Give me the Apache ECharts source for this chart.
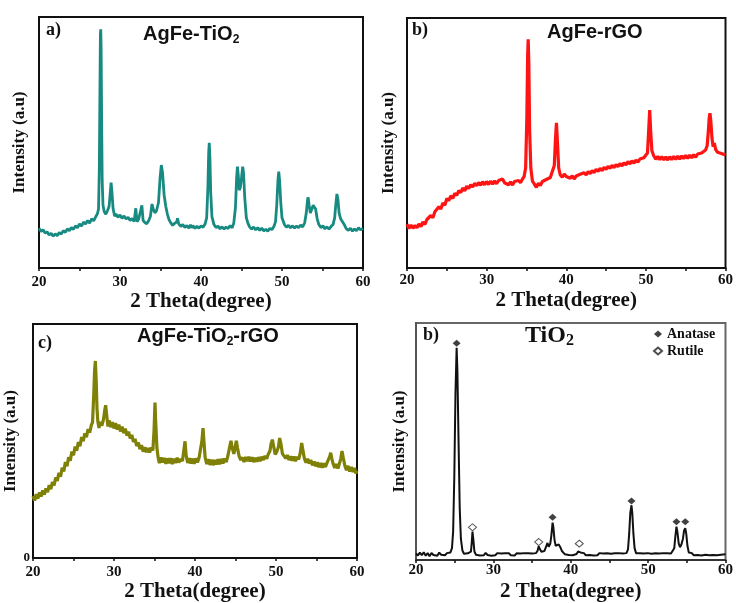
<!DOCTYPE html>
<html>
<head>
<meta charset="utf-8">
<script src="https://cdn.jsdelivr.net/npm/echarts@6/dist/echarts.min.js"></script>
<style>html,body{margin:0;padding:0;background:#fff;}#c{width:736px;height:603px;}</style>
</head>
<body>
<div id="c"></div>
<script>
// ---- DATA (2θ in degrees, intensity in arbitrary units) ----
const xTicks = [20, 30, 40, 50, 60];

const agfeTiO2 = [[20.0,15.8],[20.25,14.6],[20.5,15.2],[20.75,13.9],[21.0,14.4],[21.25,13.2],[21.5,13.8],[21.75,12.7],[22.0,13.6],[22.25,12.9],[22.5,14.1],[22.75,13.5],[23.0,14.9],[23.25,14.2],[23.5,15.6],[23.75,14.8],[24.0,16.1],[24.25,15.4],[24.5,16.8],[24.75,16.0],[25.0,17.6],[25.25,16.7],[25.5,18.3],[25.75,17.5],[26.0,18.9],[26.25,17.9],[26.5,19.6],[26.75,18.8],[27.0,20.4],[27.2,21.5],[27.35,23.5],[27.45,40],[27.52,70],[27.58,93],[27.62,95.1],[27.67,88],[27.73,60],[27.8,35],[27.9,25],[28.05,22.5],[28.25,21.4],[28.45,22.8],[28.65,24.5],[28.8,30],[28.9,34],[29.0,30.5],[29.15,23.5],[29.35,20.6],[29.5,21.5],[29.75,20.2],[30.0,21.1],[30.25,19.8],[30.5,20.7],[30.75,19.5],[31.0,20.2],[31.25,18.9],[31.5,19.7],[31.75,18.6],[31.95,23.8],[32.1,18.5],[32.3,19.4],[32.5,18.8],[32.7,25],[32.85,19],[33.05,18.2],[33.3,17.6],[33.55,18.9],[33.75,20.5],[33.95,25.5],[34.1,23.5],[34.3,22],[34.5,22.8],[34.75,26],[34.95,36],[35.1,41],[35.25,38],[35.45,29],[35.65,24.6],[35.85,21.5],[36.05,19.3],[36.25,18.1],[36.5,17.0],[36.75,17.8],[37.0,18.4],[37.1,19.8],[37.25,17.6],[37.5,16.6],[37.75,17.3],[38.0,16.2],[38.25,16.9],[38.5,15.9],[38.7,17.2],[38.85,16.0],[39.0,16.9],[39.25,15.8],[39.5,16.6],[39.75,15.9],[40.0,16.8],[40.25,16.2],[40.5,17.5],[40.7,20],[40.85,32],[40.95,46],[41.02,49.9],[41.1,44],[41.2,30],[41.35,20.5],[41.6,17.3],[41.85,16.1],[42.1,16.7],[42.35,15.6],[42.6,16.4],[42.85,15.5],[43.1,16.3],[43.35,15.7],[43.6,16.9],[43.85,16.0],[44.05,18],[44.25,24],[44.4,36],[44.5,40.4],[44.6,37],[44.72,31],[44.85,32],[45.0,36],[45.15,40.4],[45.25,38],[45.4,28],[45.6,20],[45.8,17.8],[46.0,16.4],[46.25,15.5],[46.5,16.3],[46.75,15.2],[47.0,16.1],[47.25,15.0],[47.5,15.9],[47.75,14.8],[48.0,15.4],[48.25,14.7],[48.5,15.8],[48.75,15.3],[49.0,16.5],[49.2,18.5],[49.35,25],[49.5,35],[49.6,38.4],[49.7,35],[49.85,26],[50.0,20],[50.3,17.3],[50.55,16.3],[50.8,17.0],[51.05,16.0],[51.3,16.8],[51.55,15.9],[51.8,16.7],[52.05,16.1],[52.3,17.1],[52.55,16.4],[52.8,18],[53.0,22],[53.15,27],[53.22,28.2],[53.35,25],[53.5,21.9],[53.65,22.5],[53.85,25],[54.0,25.5],[54.15,23.5],[54.35,19.5],[54.55,17.3],[54.8,16.1],[55.05,16.8],[55.3,15.6],[55.55,16.4],[55.8,15.5],[56.05,16.5],[56.3,17.3],[56.5,20],[56.65,25.5],[56.78,29.5],[56.9,27.5],[57.05,22],[57.25,19.5],[57.45,19.1],[57.7,17.2],[57.95,15.6],[58.2,15.0],[58.45,15.8],[58.7,14.7],[58.95,15.5],[59.2,14.9],[59.45,16.0],[59.7,15.2],[60.0,15.8]];

const agfeRGO = [[20.0,17.5],[20.25,15.8],[20.5,17.2],[20.75,15.9],[21.0,17.0],[21.25,16.1],[21.5,17.6],[21.75,16.6],[22.0,18.4],[22.25,17.4],[22.5,19.4],[22.75,18.7],[23.0,21.0],[23.25,20.1],[23.5,22.5],[23.75,21.8],[24.0,24.5],[24.25,23.6],[24.5,26.0],[24.75,25.1],[25.0,27.8],[25.25,26.9],[25.5,28.9],[25.75,27.8],[26.0,29.9],[26.25,29.0],[26.5,31.0],[26.75,30.1],[27.0,32.0],[27.25,30.9],[27.5,32.7],[27.75,31.8],[28.0,33.3],[28.25,32.4],[28.5,33.9],[28.75,32.9],[29.0,34.2],[29.25,33.1],[29.5,34.5],[29.75,33.3],[30.0,34.6],[30.25,33.4],[30.5,34.7],[30.75,33.6],[31.0,34.8],[31.25,33.7],[31.5,35.0],[31.75,34.2],[32.0,35.6],[32.25,34.1],[32.5,34.9],[32.75,33.3],[33.0,34.4],[33.25,33.2],[33.5,34.6],[33.75,33.8],[34.0,35.0],[34.25,34.1],[34.5,35.6],[34.7,36.5],[34.9,40],[35.05,60],[35.15,85],[35.22,91.5],[35.3,82],[35.4,55],[35.55,40],[35.75,34.8],[36.0,33.5],[36.25,32.3],[36.5,33.9],[36.75,33.0],[37.0,34.6],[37.25,33.8],[37.5,35.4],[37.75,34.7],[38.0,36.2],[38.25,36.8],[38.5,41],[38.65,52],[38.77,58.1],[38.9,50],[39.05,40],[39.25,37.2],[39.5,36.3],[39.75,37.6],[40.0,36.6],[40.25,37.3],[40.5,35.9],[40.75,36.9],[41.0,35.6],[41.25,36.8],[41.5,36.0],[41.75,37.5],[42.0,36.8],[42.25,38.1],[42.5,37.2],[42.75,38.6],[43.0,37.7],[43.25,39.0],[43.5,38.1],[43.75,39.5],[44.0,38.6],[44.25,39.9],[44.5,38.9],[44.75,40.3],[45.0,39.4],[45.25,40.7],[45.5,39.8],[45.75,41.1],[46.0,40.1],[46.25,41.4],[46.5,40.5],[46.75,41.8],[47.0,40.8],[47.25,42.1],[47.5,41.2],[47.75,42.6],[48.0,41.6],[48.25,42.9],[48.5,41.9],[48.75,43.2],[49.0,42.3],[49.25,43.6],[49.5,42.8],[49.75,44.1],[50.0,43.5],[50.2,46],[50.35,55],[50.48,63.2],[50.6,55],[50.75,47],[51.0,44.8],[51.25,43.5],[51.5,44.6],[51.75,43.4],[52.0,44.5],[52.25,43.3],[52.5,44.4],[52.75,43.2],[53.0,44.5],[53.25,43.4],[53.5,44.6],[53.75,43.5],[54.0,44.7],[54.25,43.6],[54.5,44.8],[54.75,43.8],[55.0,45.0],[55.25,43.9],[55.5,45.1],[55.75,44.1],[56.0,45.3],[56.25,44.3],[56.5,45.6],[56.75,44.8],[57.0,46.0],[57.25,45.4],[57.5,47.2],[57.7,49],[57.85,55],[57.95,60],[58.05,61.9],[58.15,59],[58.3,52],[58.45,48.5],[58.6,50],[58.75,47.5],[59.0,46.3],[59.25,47.1],[59.5,45.8],[59.75,46.4],[60.0,45.2]];

const agfeTiO2RGO = [[20.0,26.5],[20.2,24.6],[20.4,27.3],[20.6,25.4],[20.8,28.1],[21.0,26.3],[21.2,28.9],[21.4,27.1],[21.6,29.8],[21.8,28.2],[22.0,31.2],[22.2,29.4],[22.4,32.5],[22.6,31.0],[22.8,34.4],[23.0,33.0],[23.2,36.4],[23.4,34.8],[23.6,38.6],[23.8,37.0],[24.0,41.0],[24.2,39.3],[24.4,43.1],[24.6,41.6],[24.8,45.5],[25.0,43.9],[25.2,47.6],[25.4,45.9],[25.6,49.6],[25.8,47.8],[26.0,51.7],[26.2,49.9],[26.4,53.3],[26.6,51.7],[26.8,55.1],[27.0,53.6],[27.2,56.8],[27.35,58],[27.5,70],[27.6,80],[27.7,84.2],[27.8,76],[27.9,64],[28.0,58.5],[28.15,55.6],[28.3,58.2],[28.5,56.6],[28.7,59.2],[28.85,63],[28.97,65.3],[29.1,61],[29.25,56.2],[29.4,58.8],[29.6,55.9],[29.8,58.1],[30.0,55.4],[30.2,57.6],[30.4,54.9],[30.6,57.0],[30.8,54.1],[31.0,56.2],[31.2,53.4],[31.4,55.3],[31.6,52.3],[31.8,54.0],[32.0,51.1],[32.2,52.6],[32.4,49.6],[32.6,50.9],[32.8,47.9],[33.0,49.4],[33.2,46.6],[33.4,48.2],[33.6,45.5],[33.8,47.3],[34.0,45.2],[34.2,47.0],[34.4,45.1],[34.6,47.2],[34.8,46.0],[34.95,55],[35.06,66.4],[35.15,58],[35.3,47],[35.45,42.9],[35.6,40.6],[35.8,43.0],[36.0,40.8],[36.2,42.8],[36.4,40.3],[36.6,42.6],[36.8,40.5],[37.0,42.7],[37.2,40.2],[37.4,42.5],[37.6,40.6],[37.8,42.9],[38.0,40.8],[38.2,42.3],[38.45,41.5],[38.62,46],[38.77,49.9],[38.9,44],[39.1,40.6],[39.3,42.7],[39.5,40.4],[39.7,42.5],[39.9,40.3],[40.1,42.6],[40.3,40.9],[40.5,42.8],[40.7,43.5],[40.85,50],[40.99,55.5],[41.1,50],[41.25,43],[41.45,40.2],[41.65,42.2],[41.85,39.8],[42.05,42.0],[42.25,39.7],[42.45,41.9],[42.65,40.0],[42.85,42.2],[43.05,40.1],[43.25,42.4],[43.45,40.4],[43.65,42.5],[43.85,41.0],[44.05,43.5],[44.25,47],[44.44,50.1],[44.6,47],[44.8,44.5],[44.95,47],[45.1,50.1],[45.25,47],[45.45,43.5],[45.65,41.9],[45.85,43.0],[46.05,41.1],[46.25,43.2],[46.45,41.4],[46.65,43.3],[46.85,41.3],[47.05,43.1],[47.25,41.0],[47.45,42.8],[47.65,41.2],[47.85,43.1],[48.05,41.4],[48.25,43.3],[48.45,41.9],[48.65,43.7],[48.85,42.4],[49.05,44.5],[49.25,45.8],[49.4,49],[49.55,50.6],[49.7,48],[49.9,44.3],[50.1,45.5],[50.3,47.5],[50.45,51.3],[50.6,49],[50.8,44.5],[51.0,43.8],[51.2,42.6],[51.4,44.0],[51.6,41.9],[51.8,43.5],[52.0,41.6],[52.2,43.4],[52.4,41.4],[52.6,43.3],[52.8,42.2],[53.0,45],[53.17,49.2],[53.3,46.5],[53.5,42.6],[53.7,40.8],[53.9,42.4],[54.1,40.4],[54.3,41.9],[54.5,39.6],[54.7,41.3],[54.9,39.2],[55.1,40.9],[55.3,38.8],[55.5,40.6],[55.7,38.6],[55.9,40.5],[56.1,38.9],[56.3,40.7],[56.5,41.5],[56.65,43.6],[56.75,45.0],[56.9,42.5],[57.05,40.3],[57.25,38.5],[57.45,40.2],[57.65,38.3],[57.85,40.6],[58.0,42.5],[58.15,45.7],[58.3,43],[58.5,39.5],[58.7,37.6],[58.9,39.4],[59.1,37.0],[59.3,38.9],[59.5,36.8],[59.7,38.5],[59.85,36.2],[60.0,37.5]];

const tiO2 = [[20.0,2.8],[20.25,1.9],[20.5,3.1],[20.75,2.0],[21.0,3.3],[21.25,1.8],[21.5,2.9],[21.75,1.6],[22.0,3.0],[22.25,2.1],[22.5,2.7],[22.75,1.8],[23.0,3.1],[23.25,2.2],[23.5,2.8],[23.75,2.0],[24.0,2.9],[24.25,2.3],[24.45,3.2],[24.65,5.0],[24.8,12],[24.95,35],[25.1,70],[25.25,89.5],[25.35,80],[25.5,50],[25.65,22],[25.8,9],[26.0,4.0],[26.2,2.6],[26.45,2.1],[26.7,2.8],[26.95,2.3],[27.1,3.5],[27.2,7],[27.3,12],[27.4,9],[27.55,3.6],[27.75,2.2],[28.0,2.9],[28.25,1.9],[28.5,2.7],[28.75,2.0],[29.0,3.0],[29.25,2.1],[29.5,2.8],[29.75,1.8],[30.0,2.6],[30.25,2.0],[30.5,2.9],[30.75,2.1],[31.0,2.7],[31.25,1.9],[31.5,2.8],[31.75,2.2],[32.0,2.9],[32.25,2.0],[32.5,2.6],[32.75,1.9],[33.0,2.8],[33.25,2.1],[33.5,2.7],[33.75,2.0],[34.0,2.9],[34.25,2.2],[34.5,2.8],[34.75,2.1],[35.0,2.7],[35.25,2.3],[35.5,2.9],[35.7,3.8],[35.86,5.8],[36.0,4.6],[36.2,3.5],[36.4,4.2],[36.6,3.8],[36.8,5.5],[37.0,7.2],[37.15,5.6],[37.35,6.8],[37.5,10.5],[37.65,15.8],[37.75,14],[37.9,8.5],[38.05,6.0],[38.25,5.9],[38.45,6.6],[38.65,5.4],[38.85,3.8],[39.05,3.0],[39.25,2.4],[39.5,2.9],[39.75,2.1],[40.0,2.8],[40.25,2.0],[40.5,2.7],[40.75,2.5],[40.95,3.6],[41.1,4.3],[41.25,3.2],[41.45,2.4],[41.7,2.9],[41.95,2.0],[42.2,2.7],[42.45,2.1],[42.7,2.8],[42.95,1.9],[43.2,2.6],[43.45,2.0],[43.7,2.9],[43.95,2.2],[44.2,2.7],[44.45,1.9],[44.7,2.8],[44.95,2.1],[45.2,2.6],[45.45,2.0],[45.7,2.8],[45.95,2.2],[46.2,2.9],[46.45,2.1],[46.7,2.7],[46.95,2.3],[47.2,2.9],[47.4,4.5],[47.55,11],[47.7,20],[47.85,23.1],[47.95,20],[48.1,11],[48.25,5.0],[48.45,2.8],[48.7,2.1],[48.95,2.8],[49.2,2.0],[49.45,2.7],[49.7,2.1],[49.95,2.9],[50.2,2.2],[50.45,2.6],[50.7,1.9],[50.95,2.8],[51.2,2.1],[51.45,2.7],[51.7,2.0],[51.95,2.9],[52.2,2.2],[52.45,2.8],[52.7,2.1],[52.95,2.7],[53.2,2.6],[53.38,5.0],[53.52,10],[53.66,14.1],[53.8,11.5],[53.95,7.0],[54.12,5.4],[54.3,6.5],[54.5,9.0],[54.65,12.5],[54.8,13.4],[54.93,11],[55.08,6.0],[55.25,3.2],[55.45,2.4],[55.65,2.9],[55.9,2.0],[56.15,2.7],[56.4,2.1],[56.65,2.8],[56.9,1.9],[57.15,2.6],[57.4,2.2],[57.65,2.9],[57.9,2.0],[58.15,2.7],[58.4,2.1],[58.65,2.8],[58.9,2.0],[59.15,2.6],[59.4,2.2],[59.65,2.9],[60.0,2.4]];

const anataseMarks = [[25.25,91.5],[37.65,18.0],[47.85,24.9],[53.66,16.1],[54.8,16.1]];
const rutileMarks = [[27.3,13.8],[35.86,7.6],[41.1,6.9]];

// ---- LAYOUT / STYLE ----
const SERIF = 'Liberation Serif';
const SANS = 'Liberation Sans';
const grids = [
  {left:39,  top:17,  width:324, height:251, border:'#111', labelMargin:7, nameGap:22, yGap:11},
  {left:407, top:18,  width:319, height:250, border:'#111', labelMargin:5, nameGap:22, yGap:10},
  {left:33,  top:324, width:324, height:238, border:'#111', labelMargin:7, nameGap:21, yGap:8},
  {left:416, top:323, width:315, height:241, border:'#666', labelMargin:3, nameGap:21, yGap:8}
];

const chart = echarts.init(document.getElementById('c'), null, {renderer:'canvas'});

const subRich = (family, size, lh) => ({s:{fontFamily:family, fontWeight:'bold', fontSize:size, lineHeight:lh, verticalAlign:'bottom', color:'#111'}});

const option = {
  animation: false,
  backgroundColor: '#fff',
  grid: grids.map(g => ({left:g.left, top:g.top, width:g.width, height:g.height, show:true,
    borderColor:g.border, borderWidth:2, backgroundColor:'transparent', containLabel:false})),
  xAxis: grids.map((g, i) => ({
    gridIndex:i, type:'value', min:xTicks[0], max:xTicks[xTicks.length-1], interval:10,
    name:'2 Theta(degree)', nameLocation:'middle', nameGap:g.nameGap,
    nameTextStyle:{fontFamily:SERIF, fontWeight:'bold', fontSize:21, color:'#111'},
    axisLine:{show:true, lineStyle:{color:i===3?'#333':'#111', width:2}},
    axisTick:{show:true, inside:false, length:3, lineStyle:{color:'#111', width:1.5}},
    minorTick:{show:true, splitNumber:2, length:3, lineStyle:{color:'#111', width:1.5}},
    splitLine:{show:false}, minorSplitLine:{show:false},
    axisLabel:{show:true, margin:g.labelMargin, fontFamily:SERIF, fontWeight:'bold', fontSize:15, color:'#111'}
  })),
  yAxis: grids.map((g, i) => ({
    gridIndex:i, type:'value', min:0, max:100, interval:100,
    name:'Intensity (a.u)', nameLocation:'middle', nameRotate:90, nameGap:g.yGap + (i===2?6:0),
    nameTextStyle:{fontFamily:SERIF, fontWeight:'bold', fontSize:17, color:'#111'},
    axisLine:{show:true, lineStyle:{color:i===3?'#555':'#111', width:2}},
    axisTick:{show:false},
    splitLine:{show:false},
    axisLabel:{show:i===2, margin:3, fontFamily:SERIF, fontWeight:'bold', fontSize:13, color:'#111',
      formatter: v => (v === 0 ? '0' : '')}
  })),
  title: [
    {text:'a)', left:46, top:21, padding:0, textStyle:{fontFamily:SERIF, fontWeight:'bold', fontSize:18, color:'#111'}},
    {text:'AgFe-TiO{s|2}', left:143, top:22, padding:0,
      textStyle:{fontFamily:SANS, fontWeight:'bold', fontSize:20, lineHeight:24, color:'#111', rich:subRich(SANS, 12, 8)}},
    {text:'b)', left:412, top:21, padding:0, textStyle:{fontFamily:SERIF, fontWeight:'bold', fontSize:18, color:'#111'}},
    {text:'AgFe-rGO', left:547, top:22, padding:0, textStyle:{fontFamily:SANS, fontWeight:'bold', fontSize:20, color:'#111'}},
    {text:'c)', left:38, top:334, padding:0, textStyle:{fontFamily:SERIF, fontWeight:'bold', fontSize:18, color:'#111'}},
    {text:'AgFe-TiO{s|2}-rGO', left:137, top:324, padding:0,
      textStyle:{fontFamily:SANS, fontWeight:'bold', fontSize:20, lineHeight:24, color:'#111', rich:subRich(SANS, 12, 8)}},
    {text:'b)', left:423, top:326, padding:0, textStyle:{fontFamily:SERIF, fontWeight:'bold', fontSize:18, color:'#111'}},
    {text:'TiO{s|2}', left:525, top:323, padding:0,
      textStyle:{fontFamily:SERIF, fontWeight:'bold', fontSize:24, lineHeight:26, color:'#111', rich:subRich(SERIF, 16, 14)}}
  ],
  legend: {
    data:['Anatase','Rutile'], orient:'vertical', left:653, top:327, padding:0,
    itemWidth:8, itemHeight:7, itemGap:3,
    textStyle:{fontFamily:SERIF, fontWeight:'bold', fontSize:14, color:'#111'}
  },
  series: [
    {type:'line', xAxisIndex:0, yAxisIndex:0, data:agfeTiO2, showSymbol:false, symbol:'none',
      lineStyle:{color:'#178a82', width:2.8}, silent:true},
    {type:'line', xAxisIndex:1, yAxisIndex:1, data:agfeRGO, showSymbol:false, symbol:'none',
      lineStyle:{color:'#ff1414', width:3.2}, silent:true},
    {type:'line', xAxisIndex:2, yAxisIndex:2, data:agfeTiO2RGO, showSymbol:false, symbol:'none',
      lineStyle:{color:'#7f8106', width:3.2}, silent:true},
    {type:'line', xAxisIndex:3, yAxisIndex:3, data:tiO2, showSymbol:false, symbol:'none',
      lineStyle:{color:'#111', width:2}, silent:true},
    {name:'Anatase', type:'scatter', xAxisIndex:3, yAxisIndex:3, data:anataseMarks,
      symbol:'diamond', symbolSize:[8,7], itemStyle:{color:'#111'}, z:5},
    {name:'Rutile', type:'scatter', xAxisIndex:3, yAxisIndex:3, data:rutileMarks,
      symbol:'diamond', symbolSize:[8,7], itemStyle:{color:'#fff', borderColor:'#222', borderWidth:1}, z:5}
  ]
};
chart.setOption(option);
</script>
</body>
</html>
